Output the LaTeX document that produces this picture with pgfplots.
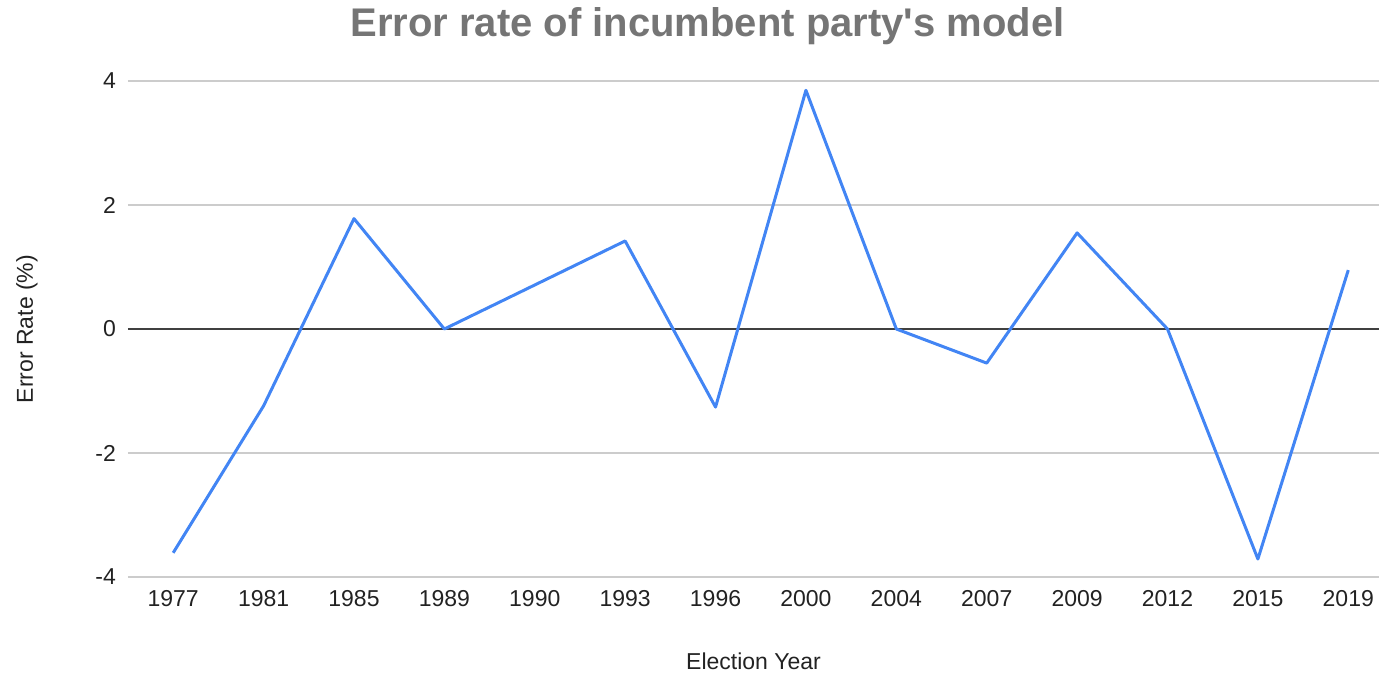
\documentclass[border=0pt]{standalone}
\usepackage{pgfplots}
\pgfplotsset{compat=1.18}
\usepackage{fontspec}
\setmainfont{Liberation Sans}
\definecolor{lineblue}{HTML}{4285F4}
\definecolor{titlegray}{HTML}{757575}
\definecolor{gridgray}{HTML}{CCCCCC}
\definecolor{labelgray}{HTML}{222222}

\begin{document}
\begin{tikzpicture}
    % page = 1379x673 px at 0.5pt per px; origin = lower left of plot area
    \useasboundingbox (-64pt,-48pt) rectangle (625.5pt,288.5pt);
    \begin{axis}[
        at={(0,0)}, anchor=south west,
        scale only axis,
        width=625.5pt, height=248pt,
        xmin=-0.5, xmax=13.34,
        ymin=-4, ymax=4,
        xtick={0,...,13},
        xticklabels={1977,1981,1985,1989,1990,1993,1996,2000,2004,2007,2009,2012,2015,2019},
        ytick={-4,-2,2,4},
        extra y ticks={0},
        extra y tick style={grid style={draw=black!75, line width=0.6pt}},
        ymajorgrids,
        grid style={draw=gridgray, line width=0.6pt},
        axis line style={draw=none},
        major tick length=0pt,
        clip=false,
        /pgf/number format/assume math mode=true,
        tick label style={font=\fontsize{11.5}{13}\selectfont, text=labelgray},
        yticklabel style={xshift=-2.5pt},
        xticklabel style={yshift=-3pt},
        xlabel={Election Year},
        ylabel={Error Rate (\%)},
        label style={font=\fontsize{11.5}{13}\selectfont, text=labelgray},
        xlabel style={at={([yshift=-42pt]axis description cs:0.5,0)}, anchor=center},
        ylabel style={at={([xshift=-50.5pt]axis description cs:0,0.5)}, anchor=center},
        title={Error rate of incumbent party\textquotesingle s model},
        title style={font=\bfseries\fontsize{20}{24}\selectfont, text=titlegray,
            at={(axis description cs:0.5,1)}, xshift=-23pt, yshift=16pt, anchor=base},
    ]
    \addplot[color=lineblue, line width=1.5pt, line join=round] coordinates {
        (0, -3.61)
        (1, -1.24)
        (2, 1.78)
        (3, 0.00)
        (4, 0.71)
        (5, 1.42)
        (6, -1.26)
        (7, 3.85)
        (8, 0.00)
        (9, -0.55)
        (10, 1.55)
        (11, 0.00)
        (12, -3.71)
        (13, 0.95)
    };
    \end{axis}
\end{tikzpicture}
\end{document}
